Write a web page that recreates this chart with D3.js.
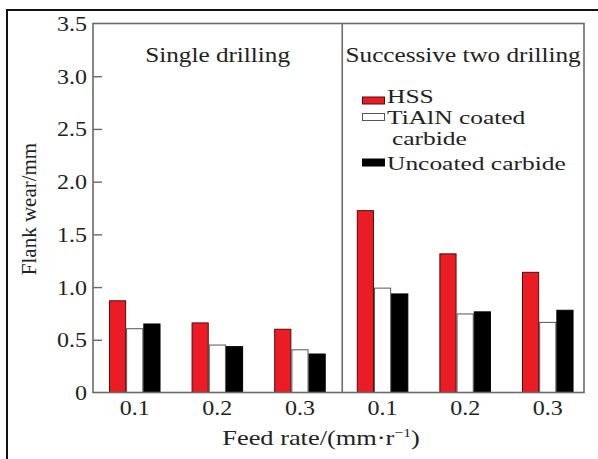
<!DOCTYPE html>
<html>
<head>
<meta charset="utf-8">
<script src="https://cdn.jsdelivr.net/npm/d3@7"></script>
<style>
  html, body { margin: 0; padding: 0; background: #fff; }
  svg { display: block; }
</style>
</head>
<body>
<script>
// Flank wear of three drill materials at three feed rates,
// for single drilling and for two successive drillings.
const feedRates = ["0.1", "0.2", "0.3"];
const modes = ["Single drilling", "Successive two drilling"];
const tools = ["HSS", "TiAlN coated carbide", "Uncoated carbide"];
const hssWear      = [0.87, 0.66, 0.60, 1.725, 1.315, 1.14];
const tialnWear    = [0.605, 0.45, 0.405, 0.99, 0.745, 0.665];
const uncoatedWear = [0.65, 0.435, 0.365, 0.935, 0.765, 0.78];
const yTicks = [0, 0.5, 1.0, 1.5, 2.0, 2.5, 3.0, 3.5];

const W = 598, H = 459;
const margin = { left: 93, top: 23.5, right: 584, bottom: 392.5 };
const FONT = "'Liberation Serif', 'Times New Roman', serif";
const INK = "#222";
const SX = 1.2; // the serif lettering is set slightly wide

const groups = [];
modes.forEach((m, mi) => feedRates.forEach((f, fi) => groups.push({ mode: m, feed: f, i: mi * feedRates.length + fi })));
const series = [hssWear, tialnWear, uncoatedWear];
const fills = ["#ec1c24", "#ffffff", "#000000"];
const strokes = ["#4a1010", "#555555", "#000000"];

const svg = d3.select("body").append("svg").attr("width", W).attr("height", H);

// outer frame
svg.append("rect").attr("x", 7).attr("y", 10).attr("width", W + 10).attr("height", H + 10)
  .attr("fill", "#fff").attr("stroke", "#111").attr("stroke-width", 2);

const x = d3.scaleBand().domain(groups.map(g => g.i))
  .range([margin.left, margin.right]).paddingInner(0.376).paddingOuter(0.16).align(0.604);
const xSub = d3.scaleBand().domain(tools).range([0, x.bandwidth()]).padding(0);
const y = d3.scaleLinear().domain([0, 3.5]).range([margin.bottom, margin.top]);

function hText(sel, txt, px, py, size, anchor, sx) {
  return sel.append("text")
    .attr("transform", `translate(${px},${py}) scale(${sx || SX},1)`)
    .attr("text-anchor", anchor || "middle")
    .attr("font-family", FONT).attr("font-size", size).attr("fill", INK)
    .text(txt);
}

// bars
const bars = svg.append("g");
groups.forEach(g => {
  tools.forEach((t, ti) => {
    const v = series[ti][g.i];
    bars.append("rect")
      .attr("x", x(g.i) + xSub(t) + 0.5)
      .attr("y", y(v))
      .attr("width", xSub.bandwidth() - 1)
      .attr("height", y(0) - y(v))
      .attr("fill", fills[ti]).attr("stroke", strokes[ti]).attr("stroke-width", 1);
  });
});

// plot frame
svg.append("rect").attr("x", margin.left).attr("y", margin.top)
  .attr("width", margin.right - margin.left).attr("height", margin.bottom - margin.top)
  .attr("fill", "none").attr("stroke", "#6a6a6a").attr("stroke-width", 1.6);

// panel divider
const lastLeft = groups[feedRates.length - 1].i, firstRight = groups[feedRates.length].i;
const divX = (x(lastLeft) + x.bandwidth() + x(firstRight)) / 2 + 1;
svg.append("line").attr("x1", divX).attr("x2", divX).attr("y1", margin.top).attr("y2", margin.bottom)
  .attr("stroke", "#6a6a6a").attr("stroke-width", 1.6);

// y axis with inward ticks
const yAxis = d3.axisLeft(y).tickValues(yTicks).tickSize(-9).tickPadding(14)
  .tickFormat(d => d === 0 ? "0" : d3.format(".1f")(d));
const ya = svg.append("g").attr("transform", `translate(${margin.left},0)`).call(yAxis);
ya.select(".domain").remove();
ya.selectAll(".tick line").attr("stroke", "#6a6a6a").attr("stroke-width", 1.4)
  .filter(d => d === 0 || d === 3.5).remove();
ya.selectAll(".tick text").each(function (d) {
  const t = d3.select(this);
  t.attr("x", null).attr("dy", null).attr("text-anchor", "end")
    .attr("transform", `translate(-6,${7}) scale(${SX},1)`)
    .attr("font-family", FONT).attr("font-size", 20).attr("fill", INK);
});

// x tick labels
groups.forEach(g => hText(svg, g.feed, x(g.i) + x.bandwidth() / 2, 415, 20));

// panel titles
hText(svg, modes[0], (margin.left + divX) / 2, 62, 21);
hText(svg, modes[1], (divX + margin.right) / 2, 62, 21);

// legend
const lg = svg.append("g");
const legendRows = [
  { sw: 97, lines: [["HSS", 387, 103]] },
  { sw: 113.5, lines: [["TiAlN coated", 387, 124], ["carbide", 392, 145]] },
  { sw: 159, lines: [["Uncoated carbide", 387, 170]] }
];
legendRows.forEach((r, i) => {
  lg.append("rect").attr("x", 362.5).attr("y", r.sw).attr("width", 22).attr("height", 7)
    .attr("fill", fills[i]).attr("stroke", strokes[i]).attr("stroke-width", 1);
  r.lines.forEach(([txt, lx, ly]) => hText(lg, txt, lx, ly, 19, "start", 1.34));
});

// axis titles
const xt = hText(svg, "", 321, 445, 22);
xt.append("tspan").text("Feed rate/(mm\u00b7r");
xt.append("tspan").text("\u22121").attr("font-size", 13).attr("dy", -8);
xt.append("tspan").text(")").attr("dy", 8);

svg.append("text")
  .attr("transform", `translate(36,209) rotate(-90)`)
  .attr("text-anchor", "middle")
  .attr("font-family", FONT).attr("font-size", 21).attr("fill", INK)
  .text("Flank wear/mm");
</script>
</body>
</html>
